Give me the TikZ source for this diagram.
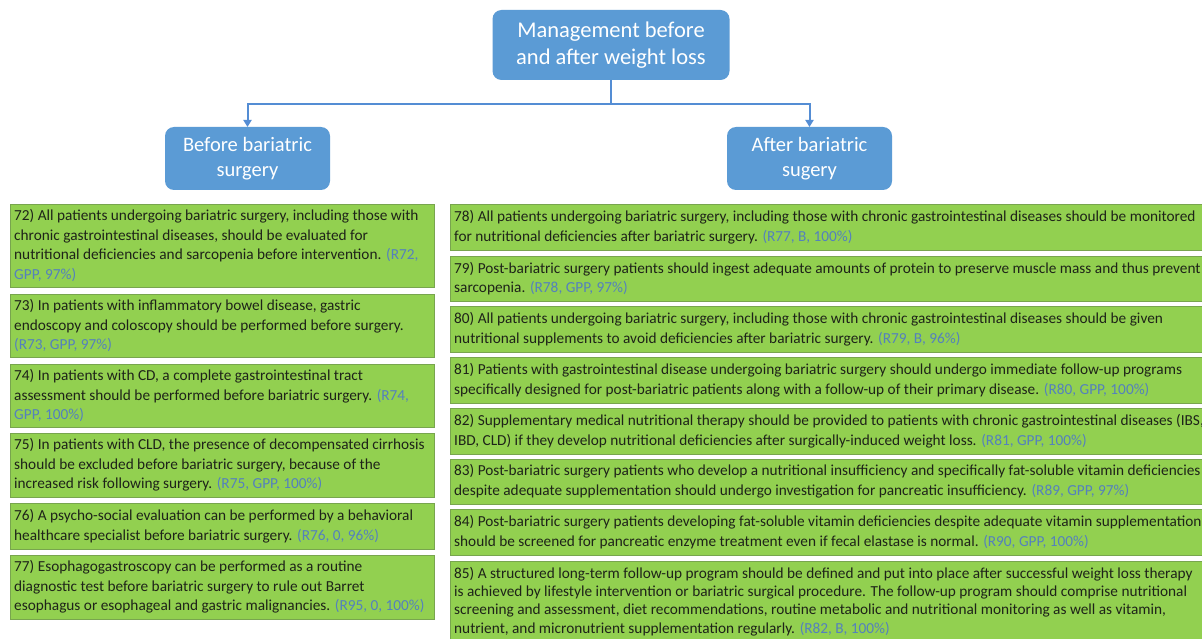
\documentclass[tikz,border=0pt]{standalone}
\usepackage{fontspec}
\setmainfont{Carlito}
\usetikzlibrary{arrows.meta}
\definecolor{bbox}{RGB}{91,155,213}
\definecolor{bline}{RGB}{84,141,212}
\definecolor{gfill}{RGB}{146,208,80}
\definecolor{gedge}{RGB}{120,165,78}
\definecolor{reftxt}{RGB}{84,128,190}
\definecolor{maintxt}{RGB}{30,35,25}
\newcommand{\rf}[1]{\textcolor{reftxt}{#1}}
\tikzset{
  bluebox/.style={draw=none, fill=bbox, rounded corners=9pt, text=white, align=center, inner sep=0pt, outer sep=0pt},
  gbox/.style={draw=gedge, line width=0.8pt, fill=gfill, inner sep=0pt, outer sep=0pt, anchor=north west},
  gtext/.style={anchor=west, align=left, inner sep=0pt, text=maintxt, font=\fontsize{15.3}{19.7}\selectfont},
  conn/.style={draw=bline, line width=2pt},
  arr/.style={conn, -{Triangle[width=8pt,length=7pt]}}
}
\begin{document}
\begin{tikzpicture}[x=1pt,y=-1pt]
\useasboundingbox (0,0) rectangle (1202,639);
\fill[white] (0,0) rectangle (1202,639);
% blue boxes
\node[bluebox, minimum width=237pt, minimum height=70pt, font=\fontsize{22.5}{27}\selectfont] (top) at (611,45) {Management before\\and after weight loss};
\node[bluebox, minimum width=165pt, minimum height=63pt, font=\fontsize{20.5}{25}\selectfont] (bl) at (247.5,158.5) {Before bariatric\\surgery};
\node[bluebox, minimum width=165pt, minimum height=63pt, font=\fontsize{20.5}{25}\selectfont] (al) at (809.5,158.5) {After bariatric\\sugery};
% connectors
\coordinate (j) at (611,104);
\draw[conn] (top.south) -- (j);
\draw[arr] (j) -| (bl.north);
\draw[arr] (j) -| (al.north);
% left column
\node[gbox, minimum width=424pt, minimum height=83pt] (b72) at (10,204) {};
\node[gtext] (t72) at ([xshift=4pt]b72.west) {72) All patients undergoing bariatric surgery, including those with\\chronic gastrointestinal diseases, should be evaluated for\\nutritional deficiencies and sarcopenia before intervention. \rf{(R72,}\\\rf{GPP, 97\%)}};
\node[gbox, minimum width=424pt, minimum height=63pt] (b73) at (10,294) {};
\node[gtext] (t73) at ([xshift=4pt]b73.west) {73) In patients with inflammatory bowel disease, gastric\\endoscopy and coloscopy should be performed before surgery.\\\rf{(R73, GPP, 97\%)}};
\node[gbox, minimum width=424pt, minimum height=63pt] (b74) at (10,364) {};
\node[gtext] (t74) at ([xshift=4pt]b74.west) {74) In patients with CD, a complete gastrointestinal tract\\assessment should be performed before bariatric surgery. \rf{(R74,}\\\rf{GPP, 100\%)}};
\node[gbox, minimum width=424pt, minimum height=64pt] (b75) at (10,433) {};
\node[gtext] (t75) at ([xshift=4pt]b75.west) {75) In patients with CLD, the presence of decompensated cirrhosis\\should be excluded before bariatric surgery, because of the\\increased risk following surgery. \rf{(R75, GPP, 100\%)}};
\node[gbox, minimum width=424pt, minimum height=46pt] (b76) at (10,503) {};
\node[gtext] (t76) at ([xshift=4pt]b76.west) {76) A psycho-social evaluation can be performed by a behavioral\\healthcare specialist before bariatric surgery. \rf{(R76, 0, 96\%)}};
\node[gbox, minimum width=424pt, minimum height=64pt] (b77) at (10,555) {};
\node[gtext] (t77) at ([xshift=4pt]b77.west) {77) Esophagogastroscopy can be performed as a routine\\diagnostic test before bariatric surgery to rule out Barret\\esophagus or esophageal and gastric malignancies. \rf{(R95, 0, 100\%)}};
% right column
\node[gbox, minimum width=770pt, minimum height=46pt] (b78) at (450,204) {};
\node[gtext] (t78) at ([xshift=4pt]b78.west) {78) All patients undergoing bariatric surgery, including those with chronic gastrointestinal diseases should be monitored\\for nutritional deficiencies after bariatric surgery. \rf{(R77, B, 100\%)}};
\node[gbox, minimum width=770pt, minimum height=45pt] (b79) at (450,256) {};
\node[gtext] (t79) at ([xshift=4pt]b79.west) {79) Post-bariatric surgery patients should ingest adequate amounts of protein to preserve muscle mass and thus prevent\\sarcopenia. \rf{(R78, GPP, 97\%)}};
\node[gbox, minimum width=770pt, minimum height=46pt] (b80) at (450,306) {};
\node[gtext] (t80) at ([xshift=4pt]b80.west) {80) All patients undergoing bariatric surgery, including those with chronic gastrointestinal diseases should be given\\nutritional supplements to avoid deficiencies after bariatric surgery. \rf{(R79, B, 96\%)}};
\node[gbox, minimum width=770pt, minimum height=46pt] (b81) at (450,357) {};
\node[gtext] (t81) at ([xshift=4pt]b81.west) {81) Patients with gastrointestinal disease undergoing bariatric surgery should undergo immediate follow-up programs\\specifically designed for post-bariatric patients along with a follow-up of their primary disease. \rf{(R80, GPP, 100\%)}};
\node[gbox, minimum width=770pt, minimum height=46pt] (b82) at (450,408) {};
\node[gtext] (t82) at ([xshift=4pt]b82.west) {82) Supplementary medical nutritional therapy should be provided to patients with chronic gastrointestinal diseases (IBS,\\IBD, CLD) if they develop nutritional deficiencies after surgically-induced weight loss. \rf{(R81, GPP, 100\%)}};
\node[gbox, minimum width=770pt, minimum height=45pt] (b83) at (450,459) {};
\node[gtext] (t83) at ([xshift=4pt]b83.west) {83) Post-bariatric surgery patients who develop a nutritional insufficiency and specifically fat-soluble vitamin deficiencies\\despite adequate supplementation should undergo investigation for pancreatic insufficiency. \rf{(R89, GPP, 97\%)}};
\node[gbox, minimum width=770pt, minimum height=46pt] (b84) at (450,509) {};
\node[gtext] (t84) at ([xshift=4pt]b84.west) {84) Post-bariatric surgery patients developing fat-soluble vitamin deficiencies despite adequate vitamin supplementation\\should be screened for pancreatic enzyme treatment even if fecal elastase is normal. \rf{(R90, GPP, 100\%)}};
\node[gbox, minimum width=770pt, minimum height=86pt] (b85) at (450,561) {};
\node[gtext, anchor=north west, font=\fontsize{15.3}{18.3}\selectfont] (t85) at ([xshift=4pt,yshift=-6pt]b85.north west) {85) A structured long-term follow-up program should be defined and put into place after successful weight loss therapy\\is achieved by lifestyle intervention or bariatric surgical procedure. The follow-up program should comprise nutritional\\screening and assessment, diet recommendations, routine metabolic and nutritional monitoring as well as vitamin,\\nutrient, and micronutrient supplementation regularly. \rf{(R82, B, 100\%)}};
\end{tikzpicture}
\end{document}
